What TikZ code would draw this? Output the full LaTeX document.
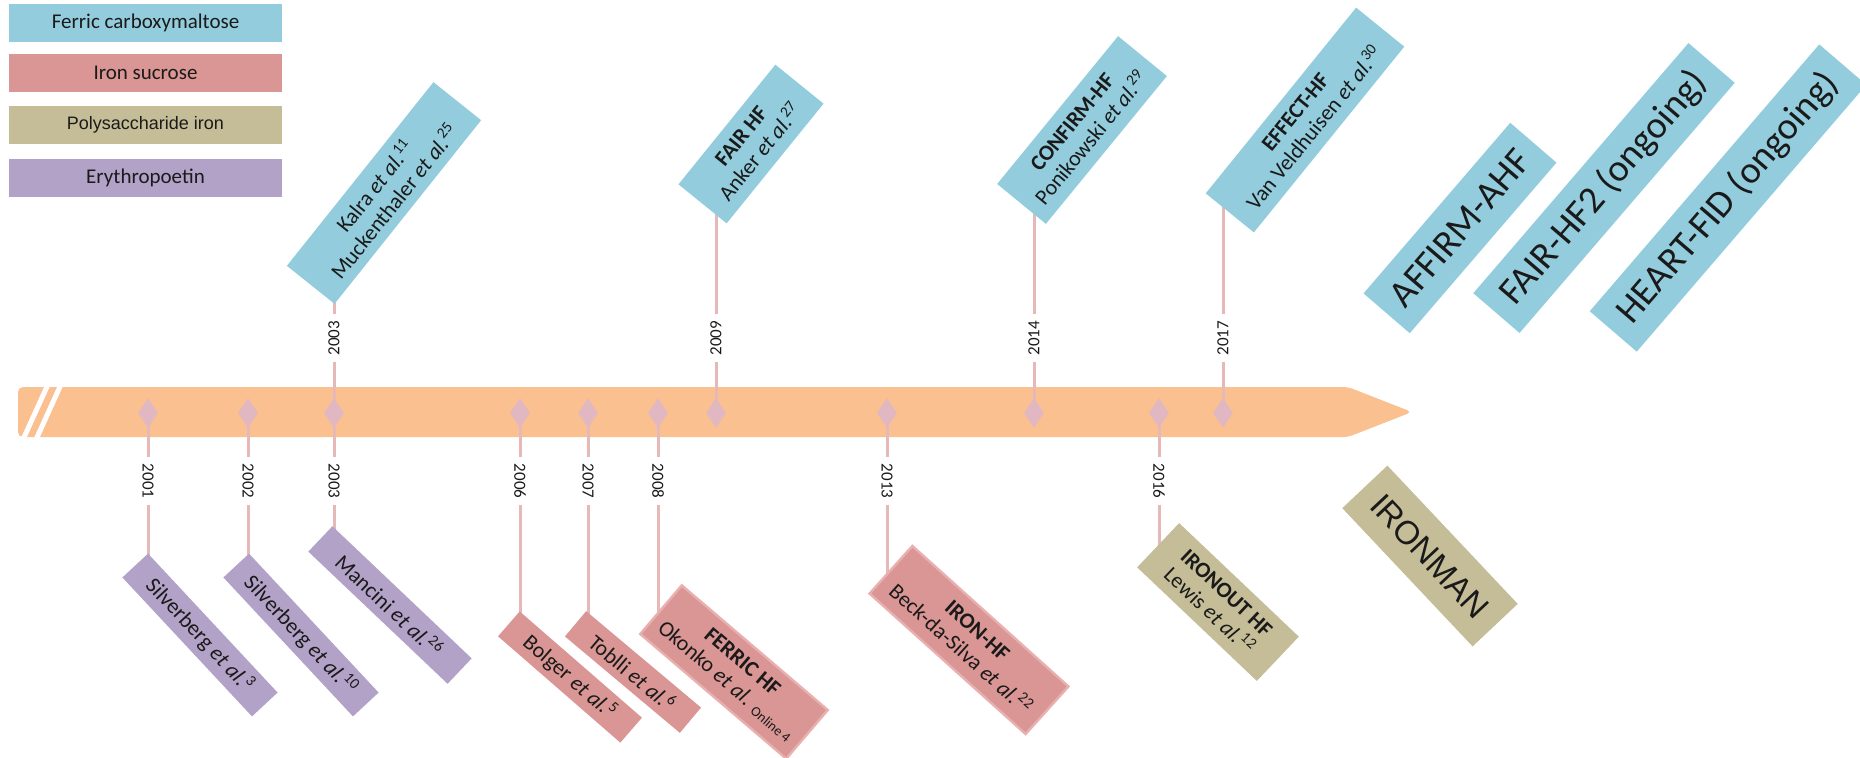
\documentclass[tikz,border=0pt]{standalone}
\usepackage{fontspec}
\setmainfont{Carlito}
\newfontfamily\arialf{Liberation Sans}
\usetikzlibrary{shapes.geometric}
\definecolor{fcm}{HTML}{93CDDD}
\definecolor{isu}{HTML}{D99694}
\definecolor{psi}{HTML}{C4BD97}
\definecolor{epo}{HTML}{B3A2C7}
\definecolor{barc}{HTML}{FAC090}
\definecolor{stemc}{HTML}{E6B9B8}
\definecolor{diac}{HTML}{E1B8C2}
\definecolor{isuline}{HTML}{E9B0B0}
\definecolor{txt}{HTML}{1A1A1A}
\pgfdeclarelayer{barlayer}
\pgfdeclarelayer{stemlayer}
\pgfsetlayers{barlayer,stemlayer,main}
\tikzset{
  leg/.style={minimum width=136.5pt, minimum height=19pt, inner sep=0pt, text=txt, font=\fontsize{10.5}{12}\selectfont},
  bx/.style={inner sep=0pt, align=center, text=txt, font=\fontsize{11}{12.5}\selectfont},
  big/.style={inner sep=0pt, align=center, text=txt, font=\fontsize{19}{22}\selectfont},
  dia/.style={shape=diamond, fill=diac, minimum width=10pt, minimum height=15pt, inner sep=0pt},
  yr/.style={font=\fontsize{8.5}{10}\selectfont, inner sep=3pt, text=txt},
  stem/.style={draw=stemc, line width=1.5pt},
  slash/.style={draw=white, line width=2.5pt},
}
\begin{document}
\begin{tikzpicture}[x=0.5pt,y=-0.5pt]
\useasboundingbox (0,0) rectangle (1860,757);
% legend
\node[leg, fill=fcm] (lfcm) at (145.5,23) {Ferric carboxymaltose};
\node[leg, fill=isu] (lisu) at (145.5,72.5) {Iron sucrose};
\node[leg, fill=psi, font=\arialf\fontsize{9}{11}\selectfont] (lpsi) at (145.5,124.5) {Polysaccharide iron};
\node[leg, fill=epo] (lepo) at (145.5,177.5) {Erythropoetin};
% bar
\begin{pgfonlayer}{barlayer}
\fill[barc, rounded corners=2.5pt] (1412,412) -- (1348,387) -- (18,387) -- (18,437) -- (1348,437) -- cycle;
\draw[slash] (50,380) -- (21,444);
\draw[slash] (63,380) -- (34,444);
\end{pgfonlayer}
% diamonds
\foreach \x/\n in {148/2001,248/2002,334/2003,520/2006,588/2007,658/2008,716/2009,887/2013,1034/2014,1159/2016,1223/2017}
  \node[dia] (d\n) at (\x,413) {};
% year labels (top)
\node[yr, rotate=90] (y2003t) at (334,338) {2003};
\node[yr, rotate=90] (y2009) at (716,338) {2009};
\node[yr, rotate=90] (y2014) at (1034,338) {2014};
\node[yr, rotate=90] (y2017) at (1223,338) {2017};
% year labels (bottom)
\node[yr, rotate=-90] (y2001) at (148,481) {2001};
\node[yr, rotate=-90] (y2002) at (248,481) {2002};
\node[yr, rotate=-90] (y2003b) at (334,481) {2003};
\node[yr, rotate=-90] (y2006) at (520,481) {2006};
\node[yr, rotate=-90] (y2007) at (588,481) {2007};
\node[yr, rotate=-90] (y2008) at (658,481) {2008};
\node[yr, rotate=-90] (y2013) at (887,481) {2013};
\node[yr, rotate=-90] (y2016) at (1159,481) {2016};
% stem ends
\coordinate (e2003t) at (334,296);
\coordinate (e2009) at (716,208);
\coordinate (e2014) at (1034,206);
\coordinate (e2017) at (1223,200);
\coordinate (e2001) at (148,562);
\coordinate (e2002) at (248,562);
\coordinate (e2003b) at (334,536);
\coordinate (e2006) at (520,622);
\coordinate (e2007) at (588,622);
\coordinate (e2008) at (658,620);
\coordinate (e2013) at (887,590);
\coordinate (e2016) at (1159,552);
\begin{pgfonlayer}{stemlayer}
\draw[stem] (d2003.center) -- (y2003t); \draw[stem] (y2003t) -- (e2003t);
\draw[stem] (d2009.center) -- (y2009); \draw[stem] (y2009) -- (e2009);
\draw[stem] (d2014.center) -- (y2014); \draw[stem] (y2014) -- (e2014);
\draw[stem] (d2017.center) -- (y2017); \draw[stem] (y2017) -- (e2017);
\draw[stem] (d2001.center) -- (y2001); \draw[stem] (y2001) -- (e2001);
\draw[stem] (d2002.center) -- (y2002); \draw[stem] (y2002) -- (e2002);
\draw[stem] (d2003.center) -- (y2003b); \draw[stem] (y2003b) -- (e2003b);
\draw[stem] (d2006.center) -- (y2006); \draw[stem] (y2006) -- (e2006);
\draw[stem] (d2007.center) -- (y2007); \draw[stem] (y2007) -- (e2007);
\draw[stem] (d2008.center) -- (y2008); \draw[stem] (y2008) -- (e2008);
\draw[stem] (d2013.center) -- (y2013); \draw[stem] (y2013) -- (e2013);
\draw[stem] (d2016.center) -- (y2016); \draw[stem] (y2016) -- (e2016);
\end{pgfonlayer}
% top boxes
\node[bx, fill=fcm, rotate=51.4, minimum width=117.5pt, minimum height=30.5pt] (kalra) at (384,193)
  {Kalra \textit{et al.}\textsuperscript{11}\\Muckenthaler \textit{et al.}\textsuperscript{25}};
\node[bx, fill=fcm, rotate=51, minimum width=77pt, minimum height=31pt] (fair) at (751,144)
  {\textbf{FAIR HF}\\Anker \textit{et al.}\textsuperscript{27}};
\node[bx, fill=fcm, rotate=50.7, minimum width=95.5pt, minimum height=31.5pt] (confirm) at (1082,130)
  {\textbf{CONFIRM-HF}\\Ponikowski \textit{et al.}\textsuperscript{29}};
\node[bx, fill=fcm, rotate=51, minimum width=119.5pt, minimum height=31pt] (effect) at (1305,120)
  {\textbf{EFFECT-HF}\\Van Veldhuisen \textit{et al.}\textsuperscript{30}};
\node[big, fill=fcm, rotate=49.3, minimum width=112.5pt, minimum height=30.5pt] (affirm) at (1460,228) {AFFIRM-AHF};
\node[big, fill=fcm, rotate=49.3, minimum width=165pt, minimum height=30.5pt] (fairtwo) at (1604,188) {FAIR-HF2 (ongoing)};
\node[big, fill=fcm, rotate=49.3, minimum width=176pt, minimum height=31pt] (heart) at (1728,198) {HEART-FID (ongoing)};
% bottom boxes
\node[bx, fill=epo, rotate=-47, minimum width=95pt, minimum height=17.5pt] (silv1) at (200,635)
  {Silverberg \textit{et al.}\textsuperscript{3}};
\node[bx, fill=epo, rotate=-47, minimum width=95pt, minimum height=17.5pt] (silv2) at (301,635)
  {Silverberg \textit{et al.}\textsuperscript{10}};
\node[bx, fill=epo, rotate=-43.5, minimum width=96pt, minimum height=17.5pt] (mancini) at (390,605)
  {Mancini \textit{et al.}\textsuperscript{26}};
\node[bx, fill=isu, rotate=-41, minimum width=81pt, minimum height=16.5pt] (bolger) at (570,677)
  {Bolger \textit{et al.}\textsuperscript{5}};
\node[bx, fill=isu, rotate=-40, minimum width=75pt, minimum height=16.5pt] (toblli) at (633,672)
  {Toblli \textit{et al.}\textsuperscript{6}};
\node[bx, fill=isu, draw=isuline, line width=1.2pt, rotate=-40.5, minimum width=96pt, minimum height=32pt] (okonko) at (734,672)
  {\textbf{FERRIC HF}\\Okonko \textit{et al.} \raisebox{-1pt}{\fontsize{7}{8}\selectfont Online 4}};
\node[bx, fill=isu, draw=isuline, line width=1.2pt, rotate=-42, minimum width=105pt, minimum height=32pt] (ironhf) at (969,640)
  {\textbf{IRON-HF}\\Beck-da-Silva \textit{et al.}\textsuperscript{22}};
\node[bx, fill=psi, rotate=-43.5, minimum width=82.5pt, minimum height=30.5pt] (ironout) at (1218,602)
  {\textbf{IRONOUT HF}\\Lewis \textit{et al.}\textsuperscript{12}};
\node[big, fill=psi, rotate=-46.7, minimum width=95pt, minimum height=31pt, font=\arialf\fontsize{16.5}{19}\selectfont] (ironman) at (1430,556) {IRONMAN};
\end{tikzpicture}
\end{document}
